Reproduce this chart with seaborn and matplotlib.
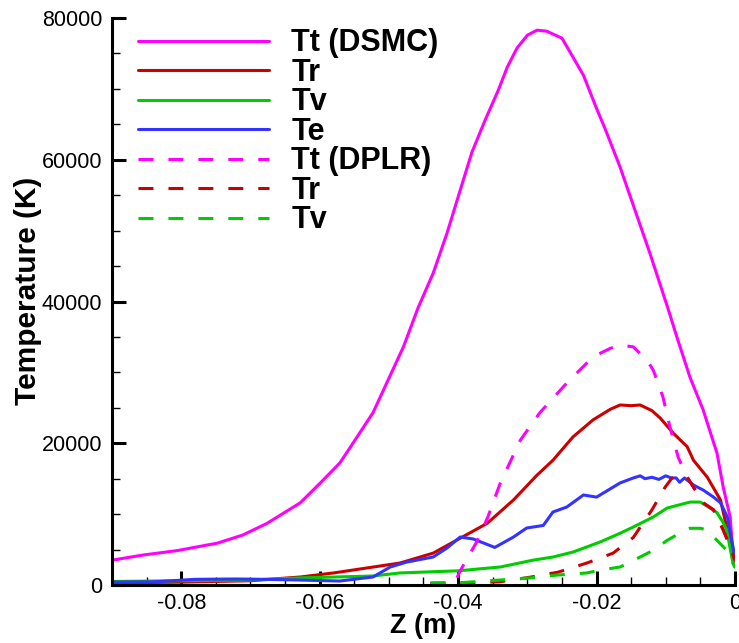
import numpy as np
import pandas as pd
import matplotlib
matplotlib.use("Agg")
import matplotlib.pyplot as plt
import seaborn as sns
from matplotlib.ticker import MultipleLocator

# ---------------- data ----------------
z_tt_dsmc = [-0.090, -0.0855, -0.0806, -0.0748, -0.0711, -0.0676, -0.0628, -0.0599, -0.0571, -0.0556,
             -0.0523, -0.0479, -0.0458, -0.0436, -0.0416, -0.0397, -0.0380, -0.0361, -0.0342, -0.0329,
             -0.0315, -0.0300, -0.0286, -0.0272, -0.0250, -0.0234, -0.0219, -0.0199, -0.0188, -0.0166,
             -0.0147, -0.0123, -0.0097, -0.0084, -0.0065, -0.0046, -0.0026, -0.0017, -0.0007, -0.0003, 0.0]
T_tt_dsmc = [3500, 4230, 4850, 5900, 7050, 8700, 11600, 14400, 17200, 19400,
             24300, 33600, 39070, 44000, 49650, 55700, 61070, 65590, 69800, 73060,
             75740, 77570, 78280, 78140, 77150, 74470, 71930, 67000, 64460, 58960,
             53600, 46830, 39070, 35000, 29300, 24700, 18600, 13800, 9600, 4500, 3000]

z_tr_dsmc = [-0.090, -0.080, -0.070, -0.0628, -0.0580, -0.0532, -0.0484, -0.0436, -0.0397, -0.0358,
             -0.0320, -0.0286, -0.0263, -0.0234, -0.0205, -0.0180, -0.0166, -0.0150, -0.0137, -0.0120,
             -0.0108, -0.0089, -0.0069, -0.0060, -0.0040, -0.0021, -0.0010, -0.0003, 0.0]
T_tr_dsmc = [300, 400, 600, 1130, 1700, 2400, 3100, 4500, 6600, 8700,
             12000, 15500, 17600, 20900, 23300, 24800, 25400, 25300, 25400, 24600,
             23550, 21400, 19500, 17600, 15200, 12000, 7300, 3500, 3000]

z_tv_dsmc = [-0.090, -0.080, -0.070, -0.0628, -0.0523, -0.0484, -0.0400, -0.0339, -0.0292, -0.0263,
             -0.0234, -0.0195, -0.0166, -0.0147, -0.0118, -0.0098, -0.0065, -0.0050, -0.0036, -0.0026,
             -0.0017, -0.0012, -0.0003, 0.0]
T_tv_dsmc = [500, 600, 700, 1000, 1270, 1700, 2000, 2540, 3500, 3950,
             4650, 6060, 7300, 8180, 9600, 10860, 11700, 11700, 10860, 10200,
             8800, 7760, 3100, 2500]

z_te_dsmc = [-0.090, -0.084, -0.078, -0.072, -0.068, -0.063, -0.0571, -0.0523, -0.0498, -0.0474,
             -0.0436, -0.0416, -0.0397, -0.0378, -0.0347, -0.0320, -0.0301, -0.0277, -0.0263, -0.0243,
             -0.0219, -0.0200, -0.0166, -0.0147, -0.0137, -0.0130, -0.0120, -0.0110, -0.0100, -0.0092,
             -0.0085, -0.0080, -0.0073, -0.0069, -0.0060, -0.0046, -0.0031, -0.0021, -0.0011, -0.0004, 0.0]
T_te_dsmc = [400, 450, 800, 850, 800, 700, 560, 1130, 2540, 3240,
             3950, 5220, 6770, 6490, 5300, 6770, 8040, 8400, 10300, 11000,
             12700, 12400, 14400, 15100, 15400, 15000, 15200, 14900, 15400, 15100,
             15100, 14500, 15100, 14800, 14100, 13400, 12400, 11600, 9600, 5900, 4000]

z_tt_dplr = [-0.0440, -0.0405, -0.0397, -0.0373, -0.0357, -0.0339, -0.0310, -0.0282, -0.0243, -0.0205,
             -0.0180, -0.0166, -0.0147, -0.0127, -0.0118, -0.0104, -0.0094, -0.0082, -0.0069, -0.0060,
             -0.0046, -0.0031, -0.0017, -0.0007, 0.0]
T_tt_dplr = [300, 300, 2000, 6100, 9600, 14400, 20450, 24300, 28500, 32200,
             33400, 33850, 33600, 31700, 30300, 26500, 22300, 18000, 15200, 13800,
             11600, 10600, 7760, 5400, 3500]

z_tr_dplr = [-0.0440, -0.0400, -0.0340, -0.0296, -0.0256, -0.0214, -0.0176, -0.0147, -0.0120, -0.0101,
             -0.0091, -0.0080, -0.0069, -0.0060, -0.0046, -0.0031, -0.0017, -0.0007, 0.0]
T_tr_dplr = [200, 280, 450, 1100, 1800, 3100, 4500, 6700, 10600, 13800,
             15100, 15500, 15200, 13800, 11600, 10600, 7760, 5400, 3500]

z_tv_dplr = [-0.0440, -0.0400, -0.0340, -0.0296, -0.0257, -0.0214, -0.0195, -0.0166, -0.0137, -0.0118,
             -0.0098, -0.0080, -0.0065, -0.0050, -0.0040, -0.0026, -0.0012, 0.0]
T_tv_dplr = [200, 300, 700, 1000, 1400, 1700, 2100, 2540, 3950, 4900,
             6300, 7300, 8000, 8000, 7760, 6300, 4900, 2500]

labels = ["Tt (DSMC)", "Tr", "Tv", "Te", "Tt (DPLR)", "Tr", "Tv"]
colors = ["#ff00ff", "#cc0000", "#00cc00", "#3333ff", "#ff00ff", "#cc0000", "#00cc00"]
dashed = [False, False, False, False, True, True, True]

x_ticks = [-0.08, -0.06, -0.04, -0.02, 0]
x_tick_labels = ["-0.08", "-0.06", "-0.04", "-0.02", "0"]
y_ticks = [0, 20000, 40000, 60000, 80000]
y_tick_labels = ["0", "20000", "40000", "60000", "80000"]

series = [(z_tt_dsmc, T_tt_dsmc), (z_tr_dsmc, T_tr_dsmc), (z_tv_dsmc, T_tv_dsmc), (z_te_dsmc, T_te_dsmc),
          (z_tt_dplr, T_tt_dplr), (z_tr_dplr, T_tr_dplr), (z_tv_dplr, T_tv_dplr)]

# ---------------- style ----------------
sns.set_style("ticks")
plt.rcParams['font.family'] = ['Liberation Sans', 'DejaVu Sans']
plt.rcParams.update({"text.color": "black", "axes.labelcolor": "black",
                     "xtick.color": "black", "ytick.color": "black"})

fig = plt.figure(figsize=(7.39, 6.43), dpi=100)
ax = fig.add_axes([112/739, (643-585)/643, (735-112)/739, (585-18)/643])

lw = 2.2
for (z, T), lab, col, d in zip(series, labels, colors, dashed):
    df = pd.DataFrame({"z": z, "T": T})
    kw = dict(linestyle=(0, (4.9, 4.9))) if d else dict(linestyle='-')
    sns.lineplot(data=df, x="z", y="T", ax=ax, color=col, linewidth=lw, label=lab,
                 sort=False, estimator=None, **kw)

ax.set_xlim(-0.09, 0)
ax.set_ylim(0, 80000)
ax.set_xticks(x_ticks)
ax.set_xticklabels(x_tick_labels)
ax.set_yticks(y_ticks)
ax.set_yticklabels(y_tick_labels)
ax.xaxis.set_minor_locator(MultipleLocator(0.005))
ax.yaxis.set_minor_locator(MultipleLocator(5000))

for s in ["top", "right"]:
    ax.spines[s].set_visible(False)
for s in ["left", "bottom"]:
    ax.spines[s].set_linewidth(2.2)
    ax.spines[s].set_color("black")
    ax.spines[s].set_zorder(5)

ax.tick_params(which="major", direction="in", length=10, width=2.2, labelsize=15.5, pad=7,
               color="black", labelcolor="black")
ax.tick_params(which="minor", direction="in", length=6, width=1.0, color="black")
ax.tick_params(axis="x", which="major", pad=6)

ax.set_xlabel("Z (m)", fontsize=19.5, fontweight="bold", color="black")
ax.set_ylabel("Temperature (K)", fontsize=21.5, fontweight="bold", color="black")
ax.xaxis.set_label_coords(0.5, -0.05)
ax.yaxis.set_label_coords(-0.135, 0.518)
ax.xaxis.label.set_va("top")
ax.yaxis.label.set_va("center")

leg = ax.legend(loc="upper left", bbox_to_anchor=(0.0417, 0.982), frameon=False,
                prop={"weight": "bold", "size": 22},
                handlelength=4.3, handletextpad=0.72, labelspacing=-0.015,
                borderpad=0, borderaxespad=0)
for t in leg.get_texts():
    t.set_color("black")

fig.savefig("out.png", dpi=100)
